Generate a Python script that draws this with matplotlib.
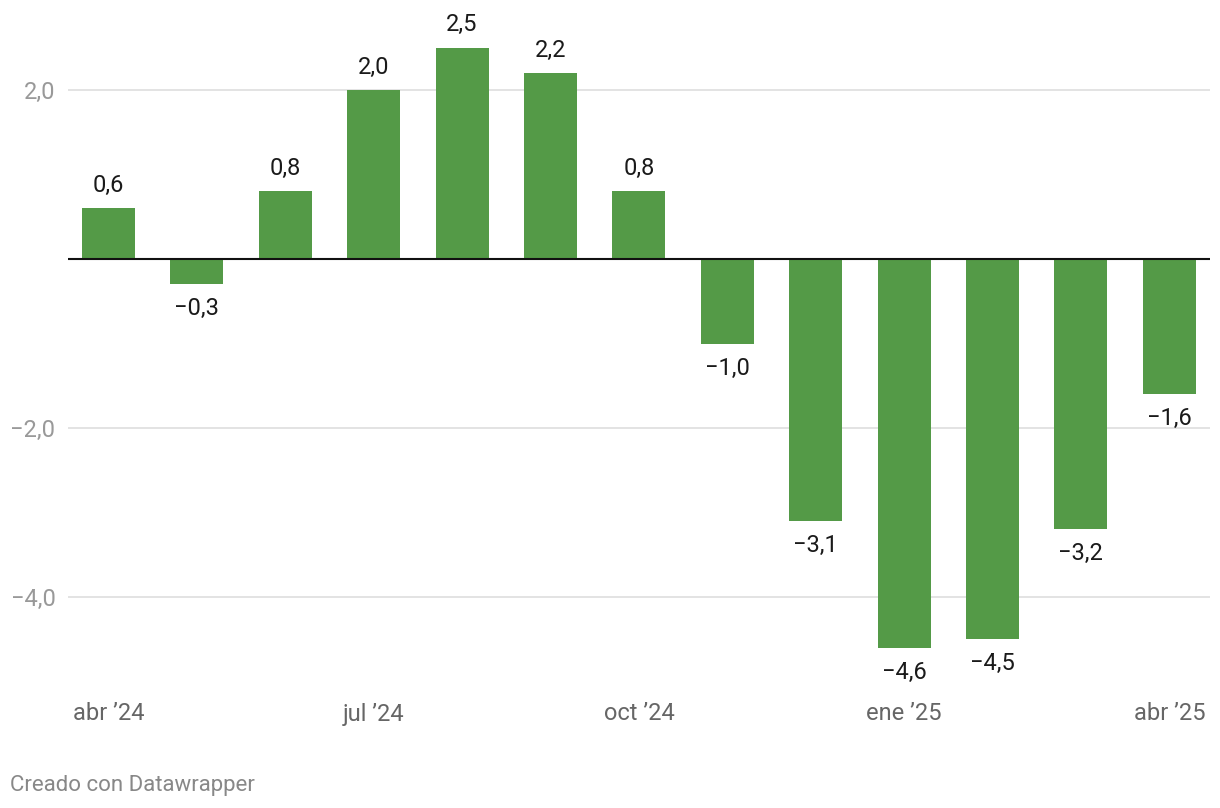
import matplotlib
matplotlib.use("Agg")
import matplotlib.pyplot as plt
import numpy as np

plt.rcParams['font.family'] = ['Roboto', 'DejaVu Sans']

months = ["abr '24", "may '24", "jun '24", "jul '24", "ago '24", "sep '24", "oct '24",
          "nov '24", "dic '24", "ene '25", "feb '25", "mar '25", "abr '25"]
values = [0.6, -0.3, 0.8, 2.0, 2.5, 2.2, 0.8, -1.0, -3.1, -4.6, -4.5, -3.2, -1.6]
tick_idx = [0, 3, 6, 9, 12]
tick_labels = ["abr \u201924", "jul \u201924", "oct \u201924", "ene \u201925", "abr \u201925"]
yticks = [2.0, -2.0, -4.0]

def fmt(v):
    s = "{:.1f}".format(abs(v)).replace(".", ",")
    return ("\u2212" + s) if v < 0 else s

fig = plt.figure(figsize=(12.2, 8.08), dpi=100)
W, H = 1220, 808
ax = fig.add_axes([68 / W, (H - 690) / H, (1210 - 68) / W, 690 / H])

x = np.arange(len(values))
ax.bar(x, values, width=0.6, color="#549a47", zorder=2)

for xi, v in zip(x, values):
    off = 0.27 if v >= 0 else -0.29
    ax.text(xi, v + off, fmt(v), ha="center", va="center", fontsize=17, color="#1a1a1a")

ax.set_xlim(-0.458, 12.46)
ax.set_ylim(-5.1, 3.065)

for y in yticks:
    ax.axhline(y, color="#e0e0e0", lw=1.3, zorder=1)
ax.axhline(0, color="#111111", lw=1.5, zorder=3)

ax.set_yticks(yticks)
ax.set_yticklabels([fmt(y) for y in yticks], fontsize=17, color="#999999")
ax.tick_params(axis="y", length=0, pad=9)

ax.set_xticks(tick_idx)
ax.set_xticklabels(tick_labels, fontsize=17, color="#666666")
ax.tick_params(axis="x", length=0, pad=9)

for s in ax.spines.values():
    s.set_visible(False)

fig.text(10 / W, 1 - 785 / H, "Creado con Datawrapper", fontsize=16, color="#888888",
         ha="left", va="center")

fig.savefig("out.png", dpi=100, facecolor="white")
